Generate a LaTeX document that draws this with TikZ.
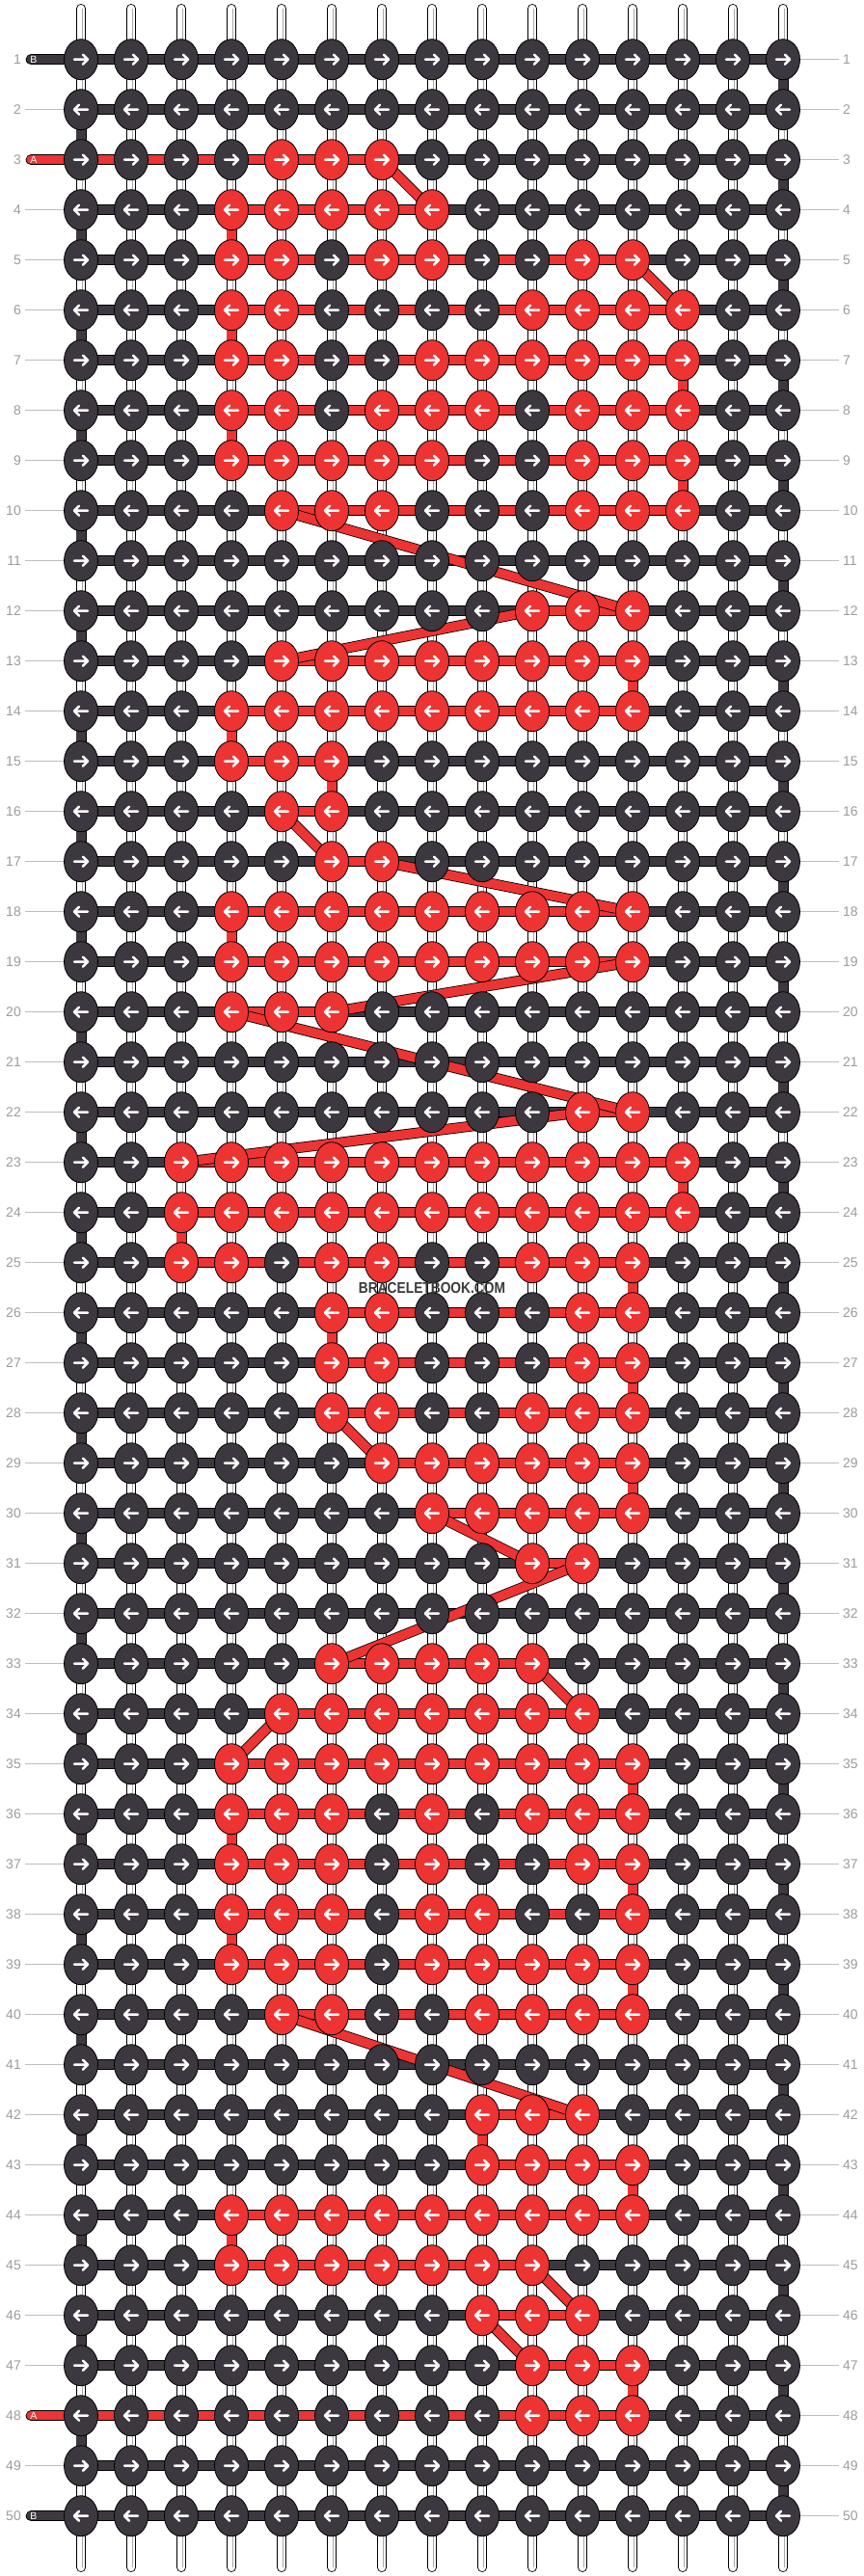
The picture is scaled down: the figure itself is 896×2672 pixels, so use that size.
\documentclass[tikz,border=0pt]{standalone}
\usepackage{fontspec}
\setmainfont{Liberation Sans}
\usetikzlibrary{shapes.geometric}
\definecolor{kdark}{HTML}{3D383F}
\definecolor{kred}{HTML}{EE3333}
\definecolor{lgrey}{HTML}{9C9C9C}
\definecolor{llgrey}{HTML}{BDBDBD}
\definecolor{wgrey}{HTML}{A8A8A8}
\definecolor{wmark}{HTML}{3A3A3A}
\tikzset{
 conn/.style={draw=black, line width=0.8pt, double=#1, double distance=9.4pt},
 knot/.style={ellipse, draw=black, line width=0.8pt, minimum width=35pt, minimum height=42pt, inner sep=0pt},
 knotarrow/.pic={\draw[white, line width=2.5pt, line cap=round, line join=round] (-7,0) -- (7,0) (2,-5) -- (7,0) -- (2,5);},
 lnum/.style={text=lgrey, font=\fontsize{14}{14}\selectfont, inner sep=0pt},
 gline/.style={draw=llgrey, line width=1pt},
 taglabel/.style={text=white, font=\fontsize{10.5}{10.5}\selectfont, inner sep=0pt},
}
\begin{document}
\begin{tikzpicture}[x=1pt,y=-1pt]
\useasboundingbox (0,0) rectangle (896,2672);
\fill[white] (0,0) rectangle (896,2672);
% grid points
\foreach \r in {1,...,50}{
  \foreach \c in {1,...,15}{
    \coordinate (p-\r-\c) at ({84+52*(\c-1)},{61.7+52*(\r-1)});
  }
}
% warp strings
\foreach \c in {1,...,15}{
  \coordinate (wt-\c) at ({84+52*(\c-1)},9);
  \coordinate (wb-\c) at ({84+52*(\c-1)},2663);
  \draw[line width=10pt, black, line cap=round] (wt-\c) -- (wb-\c);
  \draw[line width=8.4pt, white, line cap=round] (wt-\c) -- (wb-\c);
  \draw[line width=0.9pt, wgrey] ([xshift=1pt]wt-\c) -- ([xshift=1pt]wb-\c);
}
% dark turning connectors at the edges
\foreach \r in {1,3,...,49}{
  \pgfmathtruncatemacro\rn{\r+1}
  \draw[conn=kdark] (p-\r-15) -- (p-\rn-15);
}
\foreach \r in {2,4,...,48}{
  \pgfmathtruncatemacro\rn{\r+1}
  \draw[conn=kdark] (p-\r-1) -- (p-\rn-1);
}
% red vertical connectors
\foreach \r/\c in {4/4, 6/4, 7/13, 8/4, 9/13, 13/12, 14/4, 15/6, 18/4, 23/13, 24/3, 25/12, 26/6, 27/12, 29/12, 35/12, 36/4, 37/12, 38/4, 39/12, 42/9, 43/12, 44/4, 47/12}{
  \pgfmathtruncatemacro\rn{\r+1}
  \draw[conn=kred] (p-\r-\c) -- (p-\rn-\c);
}
% horizontal dark bars
\foreach \r in {1,...,50}{
  \draw[conn=kdark] (p-\r-1) -- (p-\r-15);
}
% red spans
\foreach \r/\a/\b in {3/1/7, 4/4/8, 5/4/12, 6/4/13, 7/4/13, 8/4/13, 9/4/13, 10/5/13, 12/10/12, 13/5/12, 14/4/12, 15/4/6, 16/5/6, 17/6/7, 18/4/12, 19/4/12, 20/4/6, 22/11/12, 23/3/13, 24/3/13, 25/3/12, 26/6/12, 27/6/12, 28/6/12, 29/7/12, 30/8/12, 31/10/11, 33/6/10, 34/5/11, 35/4/12, 36/4/12, 37/4/12, 38/4/12, 39/4/12, 40/5/12, 42/9/11, 43/9/12, 44/4/12, 45/4/10, 46/9/11, 47/10/12, 48/1/12}{
  \draw[conn=kred] (p-\r-\a) -- (p-\r-\b);
}
% end tags
\foreach \r/\col/\txt in {1/kdark/B, 50/kdark/B, 3/kred/A, 48/kred/A}{
  \coordinate (tag-\r) at (32.2,{61.7+52*(\r-1)});
  \draw[conn=\col, line cap=round] (tag-\r) -- (p-\r-1);
  \node[taglabel] (tl-\r) at (35,{61.7+52*(\r-1)}) {\txt};
}
% diagonals
\foreach \ra/\ca/\rb/\cb in {3/7/4/8, 5/12/6/13, 10/5/12/12, 12/10/13/5, 16/5/17/6, 17/7/18/12, 19/12/20/6, 20/4/22/12, 22/11/23/3, 28/6/29/7, 30/8/31/10, 31/11/33/6, 33/10/34/11, 34/5/35/4, 40/5/42/11, 45/10/46/11, 46/9/47/10}{
  \draw[conn=kred] (p-\ra-\ca) -- (p-\rb-\cb);
}
% red knot table
\foreach \r/\cl in {
3/{5,6,7},
4/{4,5,6,7,8},
5/{4,5,7,8,11,12},
6/{4,5,10,11,12,13},
7/{4,5,8,9,10,11,12,13},
8/{4,5,7,8,9,11,12,13},
9/{4,5,6,7,8,11,12,13},
10/{5,6,7,11,12,13},
12/{10,11,12},
13/{5,6,7,8,9,10,11,12},
14/{4,5,6,7,8,9,10,11,12},
15/{4,5,6},
16/{5,6},
17/{6,7},
18/{4,5,6,7,8,9,10,11,12},
19/{4,5,6,7,8,9,10,11,12},
20/{4,5,6},
22/{11,12},
23/{3,4,5,6,7,8,9,10,11,12,13},
24/{3,4,5,6,7,8,9,10,11,12,13},
25/{3,4,6,7,10,11,12},
26/{6,7,11,12},
27/{6,7,11,12},
28/{6,7,10,11,12},
29/{7,8,9,10,11,12},
30/{8,9,10,11,12},
31/{10,11},
33/{6,7,8,9,10},
34/{5,6,7,8,9,10,11},
35/{4,5,6,7,8,9,10,11,12},
36/{4,5,6,8,10,11,12},
37/{4,5,6,8,11,12},
38/{4,5,6,8,9,12},
39/{4,5,6,8,9,10,11,12},
40/{5,6,9,10,11,12},
42/{9,10,11},
43/{9,10,11,12},
44/{4,5,6,7,8,9,10,11,12},
45/{4,5,6,7,8,9,10},
46/{9,10,11},
47/{10,11,12},
48/{10,11,12}}{
  \foreach \c in \cl {\expandafter\xdef\csname rk-\r-\c\endcsname{1}}
}
% knots
\foreach \r in {1,...,50}{
  \ifodd\r \def\ad{1}\else\def\ad{-1}\fi
  \foreach \c in {1,...,15}{
    \ifcsname rk-\r-\c\endcsname \def\kc{kred}\else\def\kc{kdark}\fi
    \node[knot, fill=\kc] (k-\r-\c) at (p-\r-\c) {};
    \pic[xscale=\ad] at (k-\r-\c.center) {knotarrow};
  }
}
% row numbers
\foreach \r in {1,...,50}{
  \node[lnum, anchor=east] (ln-\r) at (22,{61.7+52*(\r-1)}) {\r};
  \node[lnum, anchor=west] (rn-\r) at (874,{61.7+52*(\r-1)}) {\r};
  \draw[gline] (k-\r-15.east) -- ([xshift=-4pt]rn-\r.west);
  \ifnum\r=1 \else\ifnum\r=3 \else\ifnum\r=48 \else\ifnum\r=50 \else
    \draw[gline] ([xshift=4pt]ln-\r.east) -- (k-\r-1.west);
  \fi\fi\fi\fi
}
% watermark
\node[text=wmark, font=\bfseries\fontsize{16}{16}\selectfont, inner sep=0pt] (wm) at (448,1336) {\scalebox{0.86}[1]{BRACELETBOOK.COM}};
\end{tikzpicture}
\end{document}
